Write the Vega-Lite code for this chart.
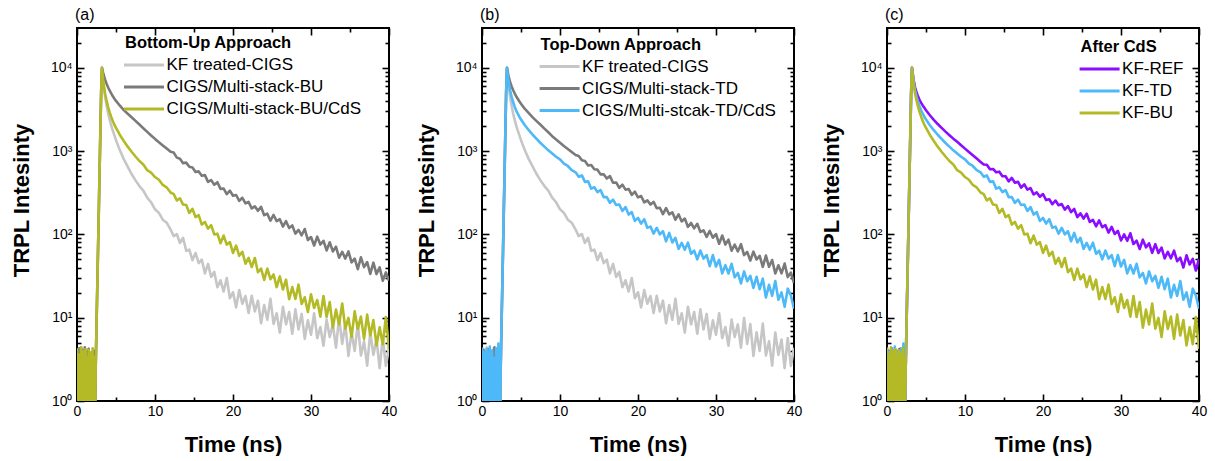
{
"$schema":"https://vega.github.io/schema/vega-lite/v6.json",
"autosize":{"type":"pad"},
"padding":{"left":9,"top":6,"right":0,"bottom":0},
"background":"white",
"config":{
 "font":"Liberation Sans",
 "view":{"stroke":"black","strokeWidth":2},
 "axis":{"grid":false,"domain":false,"labelFont":"Liberation Sans","titleFont":"Liberation Sans","labelFontSize":14,"titleFontSize":22,"titleFontWeight":"bold","labelColor":"black","titleColor":"black","tickColor":"black","tickWidth":1.6},
 "legend":{"labelFont":"Liberation Sans","titleFont":"Liberation Sans"},
 "title":{"font":"Liberation Sans"}
},
"datasets":{"trpl":[
{"t":0,"kf":3.5,"bu":4,"td":3.2,"bucds":4.3,"tdcds":4.4,"ref":3},
{"t":0.1,"kf":0.5,"bu":0.6,"td":0.5,"bucds":0.4,"tdcds":2.1,"ref":0.4},
{"t":0.2,"kf":4.2,"bu":2.6,"td":4.1,"bucds":3.6,"tdcds":0.5,"ref":4},
{"t":0.3,"kf":1.8,"bu":4.3,"td":0.4,"bucds":2.4,"tdcds":3.9,"ref":2.2},
{"t":0.4,"kf":0.4,"bu":0.4,"td":2.9,"bucds":0.5,"tdcds":3.2,"ref":0.5},
{"t":0.5,"kf":3,"bu":3.4,"td":3.8,"bucds":4.4,"tdcds":0.4,"ref":3.6},
{"t":0.6,"kf":4.4,"bu":1.2,"td":0.6,"bucds":0.3,"tdcds":4.2,"ref":4.3},
{"t":0.7,"kf":0.6,"bu":4.1,"td":1.9,"bucds":3.1,"tdcds":2.6,"ref":0.3},
{"t":0.8,"kf":2.4,"bu":0.5,"td":4.2,"bucds":4,"tdcds":0.6,"ref":2.7},
{"t":0.9,"kf":3.8,"bu":3,"td":0.3,"bucds":0.6,"tdcds":3.5,"ref":0.6},
{"t":1.0,"kf":0.3,"bu":4.4,"td":3.5,"bucds":2.7,"tdcds":4.5,"ref":4.1},
{"t":1.1,"kf":4,"bu":0.3,"td":2.3,"bucds":4.2,"tdcds":0.3,"ref":3.2},
{"t":1.2,"kf":2,"bu":2.2,"td":0.5,"bucds":0.4,"tdcds":2.9,"ref":0.4},
{"t":1.3,"kf":0.5,"bu":3.9,"td":4,"bucds":3.3,"tdcds":4,"ref":2},
{"t":1.4,"kf":3.6,"bu":0.6,"td":0.4,"bucds":1.4,"tdcds":0.5,"ref":3.9},
{"t":1.5,"kf":4.3,"bu":4.2,"td":3.1,"bucds":4.1,"tdcds":3.3,"ref":0.5},
{"t":1.6,"kf":0.7,"bu":1.6,"td":4.4,"bucds":0.5,"tdcds":2.2,"ref":4.2},
{"t":1.7,"kf":2.8,"bu":0.4,"td":0.6,"bucds":3.8,"tdcds":0.4,"ref":0.6},
{"t":1.8,"kf":3.9,"bu":3.7,"td":2,"bucds":2.5,"tdcds":4.3,"ref":3.4},
{"t":1.9,"kf":0.4,"bu":2.9,"td":3.7,"bucds":0.4,"tdcds":3,"ref":2.6},
{"t":2.0,"kf":3.2,"bu":0.5,"td":0.4,"bucds":4.3,"tdcds":0.6,"ref":0.4},
{"t":2.1,"kf":1.5,"bu":4,"td":4.1,"bucds":0.6,"tdcds":4.9,"ref":3.8},
{"t":2.2,"kf":4.1,"bu":2.1,"td":1.7,"bucds":3.4,"tdcds":2.4,"ref":0.5},
{"t":2.3,"kf":0.5,"bu":0.4,"td":0.5,"bucds":0.5,"tdcds":0.5,"ref":0.3},
{"t":2.4,"kf":2.6,"bu":2.6,"td":2.6,"bucds":2.6,"tdcds":2.6,"ref":2.6},
{"t":2.5,"kf":8,"bu":8,"td":8,"bucds":8,"tdcds":8,"ref":8},
{"t":2.6,"kf":23,"bu":23,"td":23,"bucds":23,"tdcds":23,"ref":23},
{"t":2.7,"kf":68,"bu":68,"td":68,"bucds":68,"tdcds":68,"ref":68},
{"t":2.8,"kf":200,"bu":200,"td":200,"bucds":200,"tdcds":200,"ref":200},
{"t":2.9,"kf":600,"bu":600,"td":600,"bucds":600,"tdcds":600,"ref":600},
{"t":3.0,"kf":1800,"bu":1800,"td":1800,"bucds":1800,"tdcds":1800,"ref":1800},
{"t":3.1,"kf":5300,"bu":5300,"td":5300,"bucds":5300,"tdcds":5300,"ref":5300},
{"t":3.2,"kf":10000,"bu":10000,"td":10000,"bucds":10000,"tdcds":10000,"ref":10000},
{"t":3.4,"kf":6300,"bu":8300,"td":7940,"bucds":6500,"tdcds":6920,"ref":7240},
{"t":3.6,"kf":4500,"bu":7200,"td":6760,"bucds":4900,"tdcds":5370,"ref":5820},
{"t":3.8,"kf":3500,"bu":6400,"td":5960,"bucds":4000,"tdcds":4470,"ref":5010},
{"t":4.0,"kf":2800,"bu":5800,"td":5370,"bucds":3350,"tdcds":3850,"ref":4470},
{"t":4.2,"kf":2350,"bu":5300,"td":4900,"bucds":2900,"tdcds":3390,"ref":4070},
{"t":4.4,"kf":2000,"bu":4900,"td":4520,"bucds":2550,"tdcds":3050,"ref":3760},
{"t":4.6,"kf":1750,"bu":4550,"td":4220,"bucds":2280,"tdcds":2790,"ref":3510},
{"t":4.8,"kf":1540,"bu":4250,"td":3940,"bucds":2060,"tdcds":2570,"ref":3300},
{"t":5.0,"kf":1350,"bu":4000,"td":3700,"bucds":1900,"tdcds":2390,"ref":3090},
{"t":5.5,"kf":1020,"bu":3500,"td":3200,"bucds":1560,"tdcds":2040,"ref":2690},
{"t":6.0,"kf":800,"bu":3100,"td":2850,"bucds":1320,"tdcds":1780,"ref":2370},
{"t":6.5,"kf":650,"bu":2800,"td":2540,"bucds":1130,"tdcds":1570,"ref":2110},
{"t":7.0,"kf":530,"bu":2550,"td":2290,"bucds":980,"tdcds":1400,"ref":1900},
{"t":7.5,"kf":445,"bu":2300,"td":2070,"bucds":860,"tdcds":1250,"ref":1710},
{"t":8.0,"kf":380,"bu":2080,"td":1860,"bucds":760,"tdcds":1130,"ref":1550},
{"t":8.5,"kf":335,"bu":1880,"td":1680,"bucds":690,"tdcds":1020,"ref":1410},
{"t":9.0,"kf":276,"bu":1700,"td":1510,"bucds":590,"tdcds":933,"ref":1290},
{"t":9.5,"kf":243,"bu":1540,"td":1380,"bucds":552,"tdcds":855,"ref":1175},
{"t":10.0,"kf":200,"bu":1400,"td":1260,"bucds":488,"tdcds":795,"ref":1070},
{"t":10.5,"kf":181,"bu":1280,"td":1150,"bucds":452,"tdcds":705,"ref":977},
{"t":11.0,"kf":150,"bu":1170,"td":1060,"bucds":392,"tdcds":662,"ref":891},
{"t":11.5,"kf":138,"bu":1070,"td":973,"bucds":366,"tdcds":590,"ref":813},
{"t":12.0,"kf":114,"bu":980,"td":895,"bucds":318,"tdcds":556,"ref":741},
{"t":12.4,"kf":95.3,"bu":959,"td":871,"bucds":304,"tdcds":492,"ref":689},
{"t":12.8,"kf":101,"bu":834,"td":778,"bucds":255,"tdcds":510,"ref":685},
{"t":13.2,"kf":78.9,"bu":809,"td":760,"bucds":271,"tdcds":427,"ref":604},
{"t":13.6,"kf":91,"bu":716,"td":670,"bucds":228,"tdcds":433,"ref":610},
{"t":14.0,"kf":63.5,"bu":726,"td":681,"bucds":225,"tdcds":354,"ref":556},
{"t":14.4,"kf":65.6,"bu":649,"td":604,"bucds":181,"tdcds":368,"ref":566},
{"t":14.8,"kf":49.1,"bu":635,"td":598,"bucds":203,"tdcds":321,"ref":500},
{"t":15.2,"kf":59.8,"bu":561,"td":525,"bucds":161,"tdcds":340,"ref":498},
{"t":15.6,"kf":45.2,"bu":570,"td":526,"bucds":170,"tdcds":280,"ref":432},
{"t":16.0,"kf":49.8,"bu":506,"td":468,"bucds":131,"tdcds":280,"ref":476},
{"t":16.4,"kf":34,"bu":514,"td":500,"bucds":141,"tdcds":239,"ref":416},
{"t":16.8,"kf":44.2,"bu":427,"td":416,"bucds":117,"tdcds":261,"ref":428},
{"t":17.2,"kf":30.8,"bu":448,"td":420,"bucds":129,"tdcds":225,"ref":365},
{"t":17.6,"kf":35.4,"bu":395,"td":361,"bucds":99.8,"tdcds":228,"ref":399},
{"t":18.0,"kf":23.2,"bu":423,"td":396,"bucds":102,"tdcds":191,"ref":344},
{"t":18.4,"kf":28.1,"bu":352,"td":344,"bucds":78.2,"tdcds":213,"ref":359},
{"t":18.8,"kf":20.6,"bu":355,"td":351,"bucds":96.8,"tdcds":173,"ref":301},
{"t":19.2,"kf":29.9,"bu":305,"td":298,"bucds":75.3,"tdcds":185,"ref":319},
{"t":19.6,"kf":17.1,"bu":335,"td":325,"bucds":80.8,"tdcds":145,"ref":283},
{"t":20.0,"kf":20.2,"bu":291,"td":278,"bucds":59.8,"tdcds":158,"ref":305},
{"t":20.4,"kf":13.3,"bu":297,"td":289,"bucds":73.3,"tdcds":135,"ref":258},
{"t":20.8,"kf":21.5,"bu":252,"td":242,"bucds":55.3,"tdcds":152,"ref":264},
{"t":21.2,"kf":14.7,"bu":275,"td":256,"bucds":61.7,"tdcds":120,"ref":230},
{"t":21.6,"kf":18.2,"bu":236,"td":228,"bucds":44.5,"tdcds":124,"ref":255},
{"t":22.0,"kf":11.4,"bu":245,"td":245,"bucds":52.1,"tdcds":102,"ref":224},
{"t":22.4,"kf":18.3,"bu":205,"td":206,"bucds":40.6,"tdcds":120,"ref":231},
{"t":22.8,"kf":11.9,"bu":217,"td":209,"bucds":52.1,"tdcds":100,"ref":198},
{"t":23.2,"kf":16,"bu":192,"td":175,"bucds":35.1,"tdcds":109,"ref":218},
{"t":23.6,"kf":8.57,"bu":214,"td":207,"bucds":38.9,"tdcds":82.6,"ref":185},
{"t":24.0,"kf":14.2,"bu":170,"td":174,"bucds":28.4,"tdcds":104,"ref":202},
{"t":24.4,"kf":9.42,"bu":177,"td":184,"bucds":38.8,"tdcds":80,"ref":161},
{"t":24.8,"kf":16.9,"bu":146,"td":150,"bucds":29,"tdcds":91,"ref":179},
{"t":25.2,"kf":8.41,"bu":171,"td":174,"bucds":33,"tdcds":67.1,"ref":155},
{"t":25.6,"kf":11.3,"bu":144,"td":143,"bucds":23.3,"tdcds":79.1,"ref":177},
{"t":26.0,"kf":6.61,"bu":152,"td":155,"bucds":31.3,"tdcds":65.3,"ref":141},
{"t":26.4,"kf":13.5,"bu":124,"td":123,"bucds":21.8,"tdcds":79.4,"ref":149},
{"t":26.8,"kf":8.32,"bu":144,"td":137,"bucds":28.6,"tdcds":58.6,"ref":125},
{"t":27.2,"kf":11.7,"bu":119,"td":118,"bucds":16.7,"tdcds":63.7,"ref":147},
{"t":27.6,"kf":6.41,"bu":128,"td":134,"bucds":23.3,"tdcds":50.1,"ref":122},
{"t":28.0,"kf":12.6,"bu":102,"td":107,"bucds":16.8,"tdcds":64,"ref":129},
{"t":28.4,"kf":7.21,"bu":113,"td":112,"bucds":24.9,"tdcds":51.2,"ref":105},
{"t":28.8,"kf":11.1,"bu":97.5,"td":93.3,"bucds":14.6,"tdcds":56.5,"ref":123},
{"t":29.2,"kf":5.57,"bu":116,"td":110,"bucds":17.6,"tdcds":41.5,"ref":101},
{"t":29.6,"kf":9.31,"bu":85.5,"td":91.2,"bucds":11.7,"tdcds":56.4,"ref":110},
{"t":30.0,"kf":6.25,"bu":92.9,"td":101,"bucds":19.1,"tdcds":41.1,"ref":84.5},
{"t":30.4,"kf":11.3,"bu":73.5,"td":77.1,"bucds":13.1,"tdcds":49.4,"ref":100},
{"t":30.8,"kf":5.69,"bu":94,"td":97,"bucds":16.3,"tdcds":34,"ref":83.8},
{"t":31.2,"kf":7.73,"bu":75.5,"td":75.5,"bucds":10.3,"tdcds":42.7,"ref":103},
{"t":31.6,"kf":4.6,"bu":83.8,"td":86.3,"bucds":18.2,"tdcds":33.9,"ref":76.6},
{"t":32.0,"kf":9.48,"bu":64.1,"td":63.8,"bucds":10.2,"tdcds":44.3,"ref":83.9},
{"t":32.4,"kf":5.86,"bu":80.5,"td":75.3,"bucds":15.4,"tdcds":30.5,"ref":66.8},
{"t":32.8,"kf":8.3,"bu":62.4,"td":62.4,"bucds":7.59,"tdcds":34.4,"ref":86.3},
{"t":33.2,"kf":4.37,"bu":71.1,"td":76.2,"bucds":12.5,"tdcds":25.8,"ref":69.8},
{"t":33.6,"kf":9.91,"bu":52.5,"td":56.4,"bucds":8.28,"tdcds":35.9,"ref":78},
{"t":34.0,"kf":4.85,"bu":61.8,"td":61.5,"bucds":14.8,"tdcds":27.4,"ref":60.1},
{"t":34.4,"kf":8.39,"bu":51.2,"td":48.5,"bucds":7.38,"tdcds":31.7,"ref":76.4},
{"t":34.8,"kf":3.48,"bu":62.4,"td":62.1,"bucds":9.93,"tdcds":22.8,"ref":59.8},
{"t":35.2,"kf":6.67,"bu":46.2,"td":49.9,"bucds":5.85,"tdcds":31,"ref":69.2},
{"t":35.6,"kf":3.99,"bu":51.1,"td":55.3,"bucds":11.9,"tdcds":22,"ref":51.6},
{"t":36.0,"kf":8.51,"bu":38.2,"td":40.8,"bucds":7.33,"tdcds":29.4,"ref":61.7},
{"t":36.4,"kf":3.52,"bu":53,"td":55.7,"bucds":10.3,"tdcds":17.5,"ref":51.6},
{"t":36.8,"kf":5.2,"bu":40.4,"td":40.8,"bucds":5.56,"tdcds":24.8,"ref":63.7},
{"t":37.2,"kf":2.66,"bu":46.6,"td":49.2,"bucds":10.9,"tdcds":18.3,"ref":47.6},
{"t":37.6,"kf":6.65,"bu":33.5,"td":33.9,"bucds":6.12,"tdcds":27.5,"ref":52.5},
{"t":38.0,"kf":3.58,"bu":45.8,"td":42.6,"bucds":9.35,"tdcds":16.4,"ref":40},
{"t":38.4,"kf":5.48,"bu":33.4,"td":34,"bucds":4.65,"tdcds":20.1,"ref":56.2},
{"t":38.8,"kf":2.48,"bu":40.2,"td":44.6,"bucds":7.69,"tdcds":13.5,"ref":43.5},
{"t":39.2,"kf":5.71,"bu":27.7,"td":30.7,"bucds":4.81,"tdcds":22.3,"ref":50.7},
{"t":39.6,"kf":2.64,"bu":34.9,"td":34.8,"bucds":10.2,"tdcds":18.5,"ref":36.8},
{"t":40.0,"kf":4.35,"bu":27.9,"td":26,"bucds":4.22,"tdcds":12.8,"ref":50.8}
]},
"hconcat":[
{
 "width":312,"height":373,
 "data":{"name":"trpl"},
 "title":{"text":"(a)","anchor":"start","frame":"group","orient":"top","offset":-9,"baseline":"alphabetic","fontSize":16,"fontWeight":"normal","color":"black","dx":-2},
 "transform":[{"fold":["kf","bu","bucds"],"as":["series","value"]}],
 "layer":[
  {"mark":{"type":"line","strokeWidth":2.6,"clip":true,"strokeJoin":"round"},
   "encoding":{
    "x":{"field":"t","type":"quantitative","scale":{"domain":[0,40],"nice":false,"zero":false},
     "axis":{"orient":"bottom","values":[0,5,10,15,20,25,30,35,40],"labelExpr":"datum.value % 10 == 0 ? datum.label : ''","tickSize":{"condition":{"test":"datum.value % 10 == 0","value":-7},"value":-4},"labelPadding":10,"labelFlush":false,"labelOverlap":false,"title":"Time (ns)","titleX":156,"titleY":50,"titleBaseline":"alphabetic"}},
    "y":{"field":"value","type":"quantitative","scale":{"type":"log","domain":[1,30000],"nice":false},
     "axis":{"orient":"left","values":[1,2,3,4,5,6,7,8,9,10,20,30,40,50,60,70,80,90,100,200,300,400,500,600,700,800,900,1000,2000,3000,4000,5000,6000,7000,8000,9000,10000,20000],"labelExpr":"datum.value == 1 ? '10⁰' : datum.value == 10 ? '10¹' : datum.value == 100 ? '10²' : datum.value == 1000 ? '10³' : datum.value == 10000 ? '10⁴' : ''","tickSize":{"condition":{"test":"indexof([1,10,100,1000,10000], datum.value) >= 0","value":-7},"value":-4},"labelPadding":12,"labelFlush":false,"labelOverlap":false,"title":"TRPL Intesinty","titleX":-49,"titleY":172,"titleAngle":-90,"titleAlign":"center","titleBaseline":"alphabetic"}},
    "color":{"field":"series","type":"nominal","scale":{"domain":["kf","bu","bucds"],"range":["#c6c6c6","#7a7a7a","#b3ba26"]},
     "legend":{"orient":"none","legendX":48,"legendY":7,"title":"Bottom-Up Approach","titleFontSize":16.5,"titleFontWeight":"bold","titleColor":"black","titlePadding":5,"labelFontSize":17,"labelColor":"black","symbolType":"M-4,0H4","symbolSize":100,"symbolStrokeWidth":3,"symbolOffset":10.5,"labelOffset":14,"rowPadding":4,"padding":0,"labelLimit":400,
      "labelExpr":"datum.label == 'kf' ? 'KF treated-CIGS' : datum.label == 'bu' ? 'CIGS/Multi-stack-BU' : 'CIGS/Multi-stack-BU/CdS'"}}
   }},
  {"mark":{"type":"point","opacity":0,"clip":true},
   "encoding":{
    "x":{"field":"t","type":"quantitative","axis":{"orient":"top","values":[0,5,10,15,20,25,30,35,40],"labels":false,"title":null,"tickSize":{"condition":{"test":"datum.value % 10 == 0","value":-7},"value":-4}}},
    "y":{"field":"value","type":"quantitative","axis":{"orient":"right","values":[1,2,3,4,5,6,7,8,9,10,20,30,40,50,60,70,80,90,100,200,300,400,500,600,700,800,900,1000,2000,3000,4000,5000,6000,7000,8000,9000,10000,20000],"labels":false,"title":null,"tickSize":{"condition":{"test":"indexof([1,10,100,1000,10000], datum.value) >= 0","value":-7},"value":-4}}}
   }}
 ],
 "resolve":{"axis":{"x":"independent","y":"independent"}}
},
{
 "width":312,"height":373,
 "data":{"name":"trpl"},
 "title":{"text":"(b)","anchor":"start","frame":"group","orient":"top","offset":-9,"baseline":"alphabetic","fontSize":16,"fontWeight":"normal","color":"black","dx":-2},
 "transform":[{"fold":["kf","td","tdcds"],"as":["series","value"]}],
 "layer":[
  {"mark":{"type":"line","strokeWidth":2.6,"clip":true,"strokeJoin":"round"},
   "encoding":{
    "x":{"field":"t","type":"quantitative","scale":{"domain":[0,40],"nice":false,"zero":false},
     "axis":{"orient":"bottom","values":[0,5,10,15,20,25,30,35,40],"labelExpr":"datum.value % 10 == 0 ? datum.label : ''","tickSize":{"condition":{"test":"datum.value % 10 == 0","value":-7},"value":-4},"labelPadding":10,"labelFlush":false,"labelOverlap":false,"title":"Time (ns)","titleX":156,"titleY":50,"titleBaseline":"alphabetic"}},
    "y":{"field":"value","type":"quantitative","scale":{"type":"log","domain":[1,30000],"nice":false},
     "axis":{"orient":"left","values":[1,2,3,4,5,6,7,8,9,10,20,30,40,50,60,70,80,90,100,200,300,400,500,600,700,800,900,1000,2000,3000,4000,5000,6000,7000,8000,9000,10000,20000],"labelExpr":"datum.value == 1 ? '10⁰' : datum.value == 10 ? '10¹' : datum.value == 100 ? '10²' : datum.value == 1000 ? '10³' : datum.value == 10000 ? '10⁴' : ''","tickSize":{"condition":{"test":"indexof([1,10,100,1000,10000], datum.value) >= 0","value":-7},"value":-4},"labelPadding":12,"labelFlush":false,"labelOverlap":false,"title":"TRPL Intesinty","titleX":-49,"titleY":172,"titleAngle":-90,"titleAlign":"center","titleBaseline":"alphabetic"}},
    "color":{"field":"series","type":"nominal","scale":{"domain":["kf","td","tdcds"],"range":["#c6c6c6","#7a7a7a","#4db9f8"]},
     "legend":{"orient":"none","legendX":58.6,"legendY":8.5,"title":"Top-Down Approach","titleFontSize":16.5,"titleFontWeight":"bold","titleColor":"black","titlePadding":5,"labelFontSize":17,"labelColor":"black","symbolType":"M-4,0H4","symbolSize":100,"symbolStrokeWidth":3,"symbolOffset":10.5,"labelOffset":14,"rowPadding":4,"padding":0,"labelLimit":400,
      "labelExpr":"datum.label == 'kf' ? 'KF treated-CIGS' : datum.label == 'td' ? 'CIGS/Multi-stack-TD' : 'CIGS/Multi-stcak-TD/CdS'"}}
   }},
  {"mark":{"type":"point","opacity":0,"clip":true},
   "encoding":{
    "x":{"field":"t","type":"quantitative","axis":{"orient":"top","values":[0,5,10,15,20,25,30,35,40],"labels":false,"title":null,"tickSize":{"condition":{"test":"datum.value % 10 == 0","value":-7},"value":-4}}},
    "y":{"field":"value","type":"quantitative","axis":{"orient":"right","values":[1,2,3,4,5,6,7,8,9,10,20,30,40,50,60,70,80,90,100,200,300,400,500,600,700,800,900,1000,2000,3000,4000,5000,6000,7000,8000,9000,10000,20000],"labels":false,"title":null,"tickSize":{"condition":{"test":"indexof([1,10,100,1000,10000], datum.value) >= 0","value":-7},"value":-4}}}
   }}
 ],
 "resolve":{"axis":{"x":"independent","y":"independent"}}
},
{
 "width":312,"height":373,
 "data":{"name":"trpl"},
 "title":{"text":"(c)","anchor":"start","frame":"group","orient":"top","offset":-9,"baseline":"alphabetic","fontSize":16,"fontWeight":"normal","color":"black","dx":-2},
 "transform":[{"fold":["ref","tdcds","bucds"],"as":["series","value"]}],
 "layer":[
  {"mark":{"type":"line","strokeWidth":2.6,"clip":true,"strokeJoin":"round"},
   "encoding":{
    "x":{"field":"t","type":"quantitative","scale":{"domain":[0,40],"nice":false,"zero":false},
     "axis":{"orient":"bottom","values":[0,5,10,15,20,25,30,35,40],"labelExpr":"datum.value % 10 == 0 ? datum.label : ''","tickSize":{"condition":{"test":"datum.value % 10 == 0","value":-7},"value":-4},"labelPadding":10,"labelFlush":false,"labelOverlap":false,"title":"Time (ns)","titleX":156,"titleY":50,"titleBaseline":"alphabetic"}},
    "y":{"field":"value","type":"quantitative","scale":{"type":"log","domain":[1,30000],"nice":false},
     "axis":{"orient":"left","values":[1,2,3,4,5,6,7,8,9,10,20,30,40,50,60,70,80,90,100,200,300,400,500,600,700,800,900,1000,2000,3000,4000,5000,6000,7000,8000,9000,10000,20000],"labelExpr":"datum.value == 1 ? '10⁰' : datum.value == 10 ? '10¹' : datum.value == 100 ? '10²' : datum.value == 1000 ? '10³' : datum.value == 10000 ? '10⁴' : ''","tickSize":{"condition":{"test":"indexof([1,10,100,1000,10000], datum.value) >= 0","value":-7},"value":-4},"labelPadding":12,"labelFlush":false,"labelOverlap":false,"title":"TRPL Intesinty","titleX":-49,"titleY":172,"titleAngle":-90,"titleAlign":"center","titleBaseline":"alphabetic"}},
    "color":{"field":"series","type":"nominal","scale":{"domain":["ref","tdcds","bucds"],"range":["#8b0cff","#4db9f8","#b3ba26"]},
     "legend":{"orient":"none","legendX":193.6,"legendY":11,"title":"After CdS","titleFontSize":16.5,"titleFontWeight":"bold","titleColor":"black","titlePadding":5,"labelFontSize":17,"labelColor":"black","symbolType":"M-4,0H4","symbolSize":100,"symbolStrokeWidth":3,"symbolOffset":10.5,"labelOffset":14,"rowPadding":4,"padding":0,"labelLimit":400,
      "labelExpr":"datum.label == 'ref' ? 'KF-REF' : datum.label == 'tdcds' ? 'KF-TD' : 'KF-BU'"}}
   }},
  {"mark":{"type":"point","opacity":0,"clip":true},
   "encoding":{
    "x":{"field":"t","type":"quantitative","axis":{"orient":"top","values":[0,5,10,15,20,25,30,35,40],"labels":false,"title":null,"tickSize":{"condition":{"test":"datum.value % 10 == 0","value":-7},"value":-4}}},
    "y":{"field":"value","type":"quantitative","axis":{"orient":"right","values":[1,2,3,4,5,6,7,8,9,10,20,30,40,50,60,70,80,90,100,200,300,400,500,600,700,800,900,1000,2000,3000,4000,5000,6000,7000,8000,9000,10000,20000],"labels":false,"title":null,"tickSize":{"condition":{"test":"indexof([1,10,100,1000,10000], datum.value) >= 0","value":-7},"value":-4}}}
   }}
 ],
 "resolve":{"axis":{"x":"independent","y":"independent"}}
}
],
"spacing":93,
"bounds":"flush",
"resolve":{"scale":{"color":"independent"},"legend":{"color":"independent"}}
}
